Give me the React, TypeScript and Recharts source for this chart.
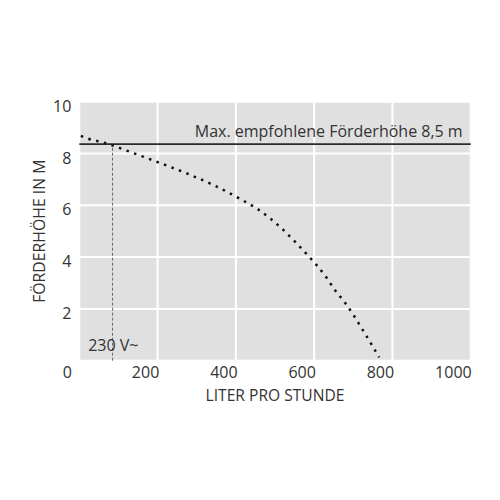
import React from "react";
import {
  LineChart,
  Line,
  XAxis,
  YAxis,
  CartesianGrid,
  ReferenceLine,
  Label,
} from "recharts";

const literProStunde = [4, 23, 63, 121, 198, 273, 347, 419, 455, 487, 519, 549, 577, 604, 630, 653, 679, 702, 724, 745, 766];
const foerderhoehe = [8.68, 8.57, 8.42, 8.11, 7.68, 7.24, 6.75, 6.18, 5.86, 5.5, 5.08, 4.63, 4.18, 3.73, 3.24, 2.73, 2.24, 1.73, 1.19, 0.67, 0.13];
const xTicks = [0, 200, 400, 600, 800, 1000];
const yTicks = [2, 4, 6, 8, 10];
const maxHoehe = 8.36;
const maxLabel = "Max. empfohlene Förderhöhe 8,5 m";
const voltX = 85;
const voltY = 8.31;
const voltLabelY = 0.6;
const voltLabel = "230 V~";
const xTitle = "LITER PRO STUNDE";
const yTitle = "FÖRDERHÖHE IN M";

const data = literProStunde.map((x, i) => ({ x, y: foerderhoehe[i] }));

const FONT = "'Open Sans', 'Noto Sans', sans-serif";
const TEXT = "#333333";

const XTick = (props: any) => {
  const { x, y, payload } = props;
  const last = payload.value === 1000;
  return (
    <text
      x={last ? x + 1 : x - 12}
      y={y + 9}
      textAnchor={last ? "end" : "middle"}
      fontSize={16}
      fontFamily={FONT}
      fill={TEXT}
    >
      {payload.value}
    </text>
  );
};

const YTick = (props: any) => {
  const { x, y, payload } = props;
  return (
    <text x={x} y={y + 10} textAnchor="end" fontSize={16} fontFamily={FONT} fill={TEXT}>
      {payload.value}
    </text>
  );
};

const MaxLabel = (props: any) => {
  const vb = props.viewBox || {};
  return (
    <text
      x={vb.x + vb.width - 8}
      y={vb.y - 7.5}
      textAnchor="end"
      fontSize={16}
      fontFamily={FONT}
      fill={TEXT}
    >
      {maxLabel}
    </text>
  );
};

const VoltLabel = (props: any) => {
  const vb = props.viewBox || {};
  return (
    <text x={vb.x - 24.4} y={vb.y + 6} textAnchor="start" fontSize={16} fontFamily={FONT} fill={TEXT}>
      {voltLabel}
    </text>
  );
};

export default function App() {
  return (
    <div style={{ width: 500, height: 500 }}>
      <LineChart
        width={500}
        height={500}
        data={data}
        margin={{ top: 93.7, right: 37.3, left: 11.3, bottom: 117.3 }}
      >
        <CartesianGrid fill="#e0e0e0" stroke="#ffffff" strokeWidth={2} />
        <XAxis
          dataKey="x"
          type="number"
          domain={[0, 1000]}
          ticks={xTicks}
          axisLine={false}
          tickLine={false}
          height={30}
          tick={<XTick />}
          interval={0}
        >
          <Label
            value={xTitle}
            position="insideBottom"
            offset={-10.5}
            fontSize={15.6}
            fontFamily={FONT}
            fill={TEXT}
          />
        </XAxis>
        <YAxis
          type="number"
          domain={[0, 10]}
          ticks={yTicks}
          axisLine={false}
          tickLine={false}
          width={60}
          tick={<YTick />}
          interval={0}
        >
          <Label
            value={yTitle}
            angle={-90}
            position="insideLeft"
            offset={20}
            style={{ textAnchor: "middle" }}
            fontSize={15.8}
            fontFamily={FONT}
            fill={TEXT}
          />
        </YAxis>
        <ReferenceLine
          segment={[
            { x: voltX, y: 0 },
            { x: voltX, y: voltY },
          ]}
          stroke="#666666"
          strokeWidth={1}
          strokeDasharray="3 2"
        />
        <ReferenceLine y={maxHoehe} stroke="#2b2b2b" strokeWidth={1.8}>
          <Label content={<MaxLabel />} />
        </ReferenceLine>
        <ReferenceLine
          segment={[
            { x: voltX, y: voltLabelY },
            { x: voltX, y: voltLabelY },
          ]}
          stroke="none"
        >
          <Label content={<VoltLabel />} />
        </ReferenceLine>
        <Line
          type="monotone"
          dataKey="y"
          stroke="#111111"
          strokeWidth={2.5}
          strokeDasharray="2.5 5.5"
          dot={false}
          activeDot={false}
          isAnimationActive={false}
        />
      </LineChart>
    </div>
  );
}
